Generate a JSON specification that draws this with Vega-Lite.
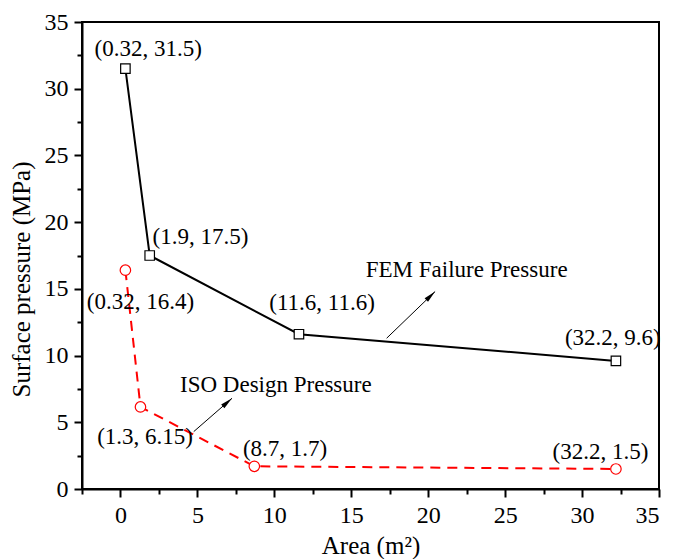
{
  "$schema": "https://vega.github.io/schema/vega-lite/v6.json",
  "width": 577,
  "height": 467,
  "autosize": "none",
  "padding": {"left": 82, "top": 22, "right": 14, "bottom": 70},
  "background": "white",
  "config": {
    "view": {"stroke": "black", "strokeWidth": 2},
    "axis": {
      "grid": false,
      "labelFont": "Liberation Serif",
      "labelFontSize": 24,
      "labelColor": "black",
      "titleFont": "Liberation Serif",
      "titleFontSize": 25,
      "titleFontWeight": "normal",
      "titleColor": "black",
      "domainColor": "black",
      "domainWidth": 2,
      "tickColor": "black",
      "tickWidth": 2,
      "tickSize": 8,
      "labelPadding": 6
    },
    "text": {"font": "Liberation Serif", "fontSize": 23}
  },
  "datasets": {
    "fem": [
      {"area": 0.32, "p": 31.5},
      {"area": 1.9, "p": 17.5},
      {"area": 11.6, "p": 11.6},
      {"area": 32.2, "p": 9.6}
    ],
    "iso": [
      {"area": 0.32, "p": 16.4},
      {"area": 1.3, "p": 6.15},
      {"area": 8.7, "p": 1.7},
      {"area": 32.2, "p": 1.5}
    ],
    "labels": [
      {"t": "(0.32, 31.5)", "x": 1.8, "y": 33.0},
      {"t": "(1.9, 17.5)", "x": 5.2, "y": 18.9},
      {"t": "(11.6, 11.6)", "x": 13.1, "y": 13.95},
      {"t": "(32.2, 9.6)", "x": 32.0, "y": 11.3},
      {"t": "(0.32, 16.4)", "x": 1.3, "y": 14.0},
      {"t": "(1.3, 6.15)", "x": 1.6, "y": 3.9},
      {"t": "(8.7, 1.7)", "x": 10.7, "y": 3.0},
      {"t": "(32.2, 1.5)", "x": 31.2, "y": 2.8},
      {"t": "FEM Failure Pressure", "x": 22.5, "y": 16.4},
      {"t": "ISO Design Pressure", "x": 10.1, "y": 7.8}
    ],
    "arrows": [
      {"x1": 17.3, "y1": 11.3, "x2": 20.45, "y2": 14.8, "ang": 46},
      {"x1": 4.76, "y1": 4.3, "x2": 7.25, "y2": 6.8, "ang": 49}
    ]
  },
  "resolve": {"axis": {"x": "independent", "y": "independent"}},
  "layer": [
    {
      "data": {"name": "fem"},
      "mark": {"type": "line", "color": "black", "strokeWidth": 2},
      "encoding": {
        "x": {"field": "area", "type": "quantitative",
              "scale": {"domain": [-2.5, 35], "nice": false, "zero": false},
              "axis": {"orient": "bottom", "values": [0, 5, 10, 15, 20, 25, 30, 35], "title": "Area (m²)", "titlePadding": 6}},
        "y": {"field": "p", "type": "quantitative",
              "scale": {"domain": [0, 35], "nice": false, "zero": false},
              "axis": {"orient": "left", "values": [0, 5, 10, 15, 20, 25, 30, 35], "title": "Surface pressure (MPa)", "titlePadding": 10, "titleY": 257, "titleAlign": "center"}}
      }
    },
    {
      "data": {"name": "fem"},
      "mark": {"type": "point", "opacity": 0},
      "encoding": {
        "x": {"field": "area", "type": "quantitative",
              "axis": {"orient": "bottom", "values": [-2.5, 2.5, 7.5, 12.5, 17.5, 22.5, 27.5, 32.5], "labels": false, "domain": false, "tickSize": 5, "title": null}},
        "y": {"field": "p", "type": "quantitative",
              "axis": {"orient": "left", "values": [2.5, 7.5, 12.5, 17.5, 22.5, 27.5, 32.5], "labels": false, "domain": false, "tickSize": 5, "title": null}}
      }
    },
    {
      "data": {"name": "iso"},
      "mark": {"type": "line", "color": "#ff0000", "strokeWidth": 2, "strokeDash": [10, 7]},
      "encoding": {
        "x": {"field": "area", "type": "quantitative", "axis": null},
        "y": {"field": "p", "type": "quantitative", "axis": null}
      }
    },
    {
      "data": {"name": "fem"},
      "mark": {"type": "point", "shape": "square", "size": 90, "filled": true, "fill": "white", "stroke": "black", "strokeWidth": 1.2, "opacity": 1},
      "encoding": {
        "x": {"field": "area", "type": "quantitative", "axis": null},
        "y": {"field": "p", "type": "quantitative", "axis": null}
      }
    },
    {
      "data": {"name": "iso"},
      "mark": {"type": "point", "shape": "circle", "size": 110, "filled": true, "fill": "white", "stroke": "#ff0000", "strokeWidth": 1.2, "opacity": 1},
      "encoding": {
        "x": {"field": "area", "type": "quantitative", "axis": null},
        "y": {"field": "p", "type": "quantitative", "axis": null}
      }
    },
    {
      "data": {"name": "arrows"},
      "mark": {"type": "rule", "color": "black", "strokeWidth": 1},
      "encoding": {
        "x": {"field": "x1", "type": "quantitative", "axis": null},
        "y": {"field": "y1", "type": "quantitative", "axis": null},
        "x2": {"field": "x2"},
        "y2": {"field": "y2"}
      }
    },
    {
      "data": {"name": "arrows"},
      "mark": {"type": "point", "shape": "M0,0L0.4,2L-0.4,2Z", "size": 150, "filled": true, "color": "black", "opacity": 1},
      "encoding": {
        "x": {"field": "x2", "type": "quantitative", "axis": null},
        "y": {"field": "y2", "type": "quantitative", "axis": null},
        "angle": {"field": "ang", "type": "quantitative", "scale": null}
      }
    },
    {
      "data": {"name": "labels"},
      "mark": {"type": "text", "align": "center", "baseline": "middle", "color": "black"},
      "encoding": {
        "x": {"field": "x", "type": "quantitative", "axis": null},
        "y": {"field": "y", "type": "quantitative", "axis": null},
        "text": {"field": "t"}
      }
    }
  ]
}
